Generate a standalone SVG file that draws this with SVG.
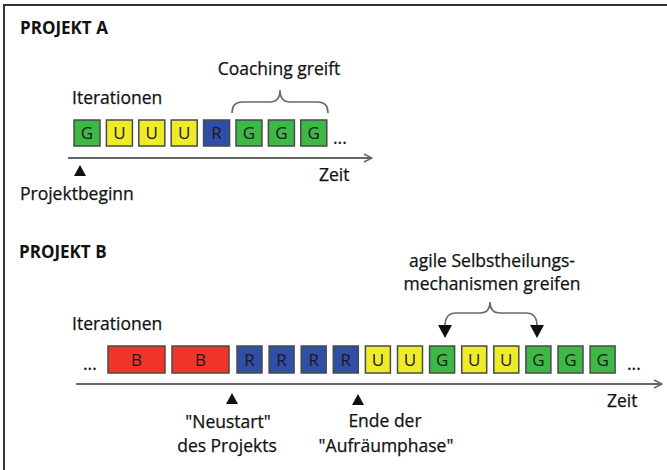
<svg xmlns="http://www.w3.org/2000/svg" width="667" height="470" viewBox="0 0 667 470">
<style>
  text { font-family: "Open Sans", "Liberation Sans", sans-serif; fill: #111; }
  .title { font-size: 17px; font-weight: bold; }
  .lbl { font-size: 17.5px; stroke: #111; stroke-width: 0.25; }
  .box { stroke: #4a4a4a; stroke-width: 1.5; }
  .g { fill: #3db846; }
  .u { fill: #eeeb2a; }
  .r { fill: #2f4ea8; }
  .b { fill: #ee3528; }
  .bt { font-size: 17px; text-anchor: middle; fill: #1a1a1a; }
  .axis { stroke: #666; stroke-width: 2; fill: none; }
  .brace { stroke: #6a6a6a; stroke-width: 1.6; fill: none; }
</style>
<defs>
  <marker id="open" viewBox="0 0 10 10" refX="9" refY="5" markerWidth="10" markerHeight="10" markerUnits="userSpaceOnUse" orient="auto">
    <path d="M1,1 L9,5 L1,9" fill="none" stroke="#666" stroke-width="1.5"/>
  </marker>
</defs>
<rect width="667" height="470" fill="#fff"/>
<path d="M4,470 V5 H667" fill="none" stroke="#333" stroke-width="2"/>

<g id="projektA">
  <text class="title" x="20" y="34">PROJEKT A</text>
  <text class="lbl" x="72" y="104">Iterationen</text>
  <text class="lbl" x="279" y="75" text-anchor="middle">Coaching greift</text>
  <g id="a-iterations">
    <rect class="box g" x="74" y="120" width="26" height="26"/><text class="bt" x="87" y="139">G</text>
    <rect class="box u" x="106.4" y="120" width="26" height="26"/><text class="bt" x="119.4" y="139">U</text>
    <rect class="box u" x="138.8" y="120" width="26" height="26"/><text class="bt" x="151.8" y="139">U</text>
    <rect class="box u" x="171.2" y="120" width="26" height="26"/><text class="bt" x="184.2" y="139">U</text>
    <rect class="box r" x="203.6" y="120" width="26" height="26"/><text class="bt" x="216.6" y="139">R</text>
    <rect class="box g" x="236" y="120" width="26" height="26"/><text class="bt" x="249" y="139">G</text>
    <rect class="box g" x="268.4" y="120" width="26" height="26"/><text class="bt" x="281.4" y="139">G</text>
    <rect class="box g" x="300.8" y="120" width="26" height="26"/><text class="bt" x="313.8" y="139">G</text>
    <text class="lbl" x="333" y="144">...</text>
  </g>
  <text class="lbl" x="319" y="181">Zeit</text>
  <polygon points="80,165 86,176 74,176" fill="#111"/>
  <text class="lbl" x="20" y="200">Projektbeginn</text>
</g>

<g id="projektB">
  <text class="title" x="19" y="258">PROJEKT B</text>
  <text class="lbl" x="72" y="330">Iterationen</text>
  <text class="lbl" x="492" y="267" text-anchor="middle">agile Selbstheilungs-</text>
  <text class="lbl" x="492" y="290" text-anchor="middle">mechanismen greifen</text>
  <g id="b-iterations">
    <text class="lbl" x="83" y="370">...</text>
    <rect class="box b" x="108" y="346" width="57" height="27"/><text class="bt" x="136.5" y="366">B</text>
    <rect class="box b" x="172" y="346" width="57" height="27"/><text class="bt" x="200.5" y="366">B</text>
    <rect class="box r" x="237" y="346" width="25" height="27"/><text class="bt" x="249.5" y="366">R</text>
    <rect class="box r" x="269.1" y="346" width="25" height="27"/><text class="bt" x="281.6" y="366">R</text>
    <rect class="box r" x="301.2" y="346" width="25" height="27"/><text class="bt" x="313.7" y="366">R</text>
    <rect class="box r" x="333.3" y="346" width="25" height="27"/><text class="bt" x="345.8" y="366">R</text>
    <rect class="box u" x="365.4" y="346" width="25" height="27"/><text class="bt" x="377.9" y="366">U</text>
    <rect class="box u" x="397.5" y="346" width="25" height="27"/><text class="bt" x="410" y="366">U</text>
    <rect class="box g" x="429.6" y="346" width="25" height="27"/><text class="bt" x="442.1" y="366">G</text>
    <rect class="box u" x="461.7" y="346" width="25" height="27"/><text class="bt" x="474.2" y="366">U</text>
    <rect class="box u" x="493.8" y="346" width="25" height="27"/><text class="bt" x="506.3" y="366">U</text>
    <rect class="box g" x="525.9" y="346" width="25" height="27"/><text class="bt" x="538.4" y="366">G</text>
    <rect class="box g" x="558" y="346" width="25" height="27"/><text class="bt" x="570.5" y="366">G</text>
    <rect class="box g" x="590.1" y="346" width="25" height="27"/><text class="bt" x="602.6" y="366">G</text>
    <text class="lbl" x="627" y="370">...</text>
  </g>
  <text class="lbl" x="607" y="407">Zeit</text>
  <polygon points="232,393 238,404 226,404" fill="#111"/>
  <text class="lbl" x="228" y="428" text-anchor="middle">"Neustart"</text>
  <text class="lbl" x="227" y="452" text-anchor="middle">des Projekts</text>
  <polygon points="358,394 364,405 352,405" fill="#111"/>
  <text class="lbl" x="385" y="427" text-anchor="middle">Ende der</text>
  <text class="lbl" x="386" y="452" text-anchor="middle">"Aufräumphase"</text>
</g>

<g id="connectors">
  <line class="axis" x1="68" y1="158" x2="372" y2="158" marker-end="url(#open)"/>
  <line class="axis" x1="76" y1="384" x2="662" y2="384" marker-end="url(#open)"/>
  <path class="brace" d="M232,113 Q232,102 242,102 L270,102 Q280,102 280,90 Q280,102 290,102 L318,102 Q328,102 328,113"/>
  <path class="brace" d="M445,326 Q445,313 456,313 L480,313 Q490,313 490,302 Q490,313 500,313 L526,313 Q537,313 537,326"/>
  <polygon points="438,325 452,325 445,338" fill="#111"/>
  <polygon points="530,325 544,325 537,338" fill="#111"/>
</g>
</svg>
